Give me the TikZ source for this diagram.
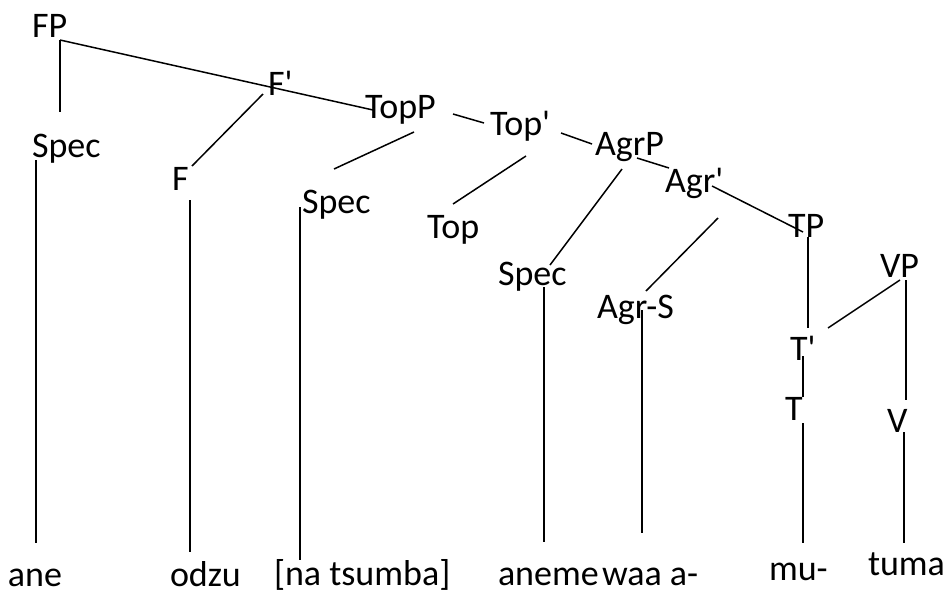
\documentclass[tikz,border=0pt]{standalone}
\usepackage{fontspec}
\setmainfont{Carlito}[Ligatures=TeXOff]
\begin{document}
\begin{tikzpicture}[x=1pt,y=-1pt,
  lbl/.style={anchor=base west, inner sep=0pt, outer sep=0pt, font=\fontsize{36}{40}\selectfont},
  branch/.style={line width=1.5pt, line cap=butt}]
\path[use as bounding box] (0,0) rectangle (946,595);
% labels
\node[lbl] (FP) at (32,37) {FP};
\node[lbl] (Fbar) at (268,95) {F'};
\node[lbl] (TopP) at (365,118) {TopP};
\node[lbl] (Spec1) at (32,157) {Spec};
\node[lbl] (F) at (172,190) {F};
\node[lbl] (Spec2) at (302,213) {Spec};
\node[lbl] (Top) at (427,238) {Top};
\node[lbl] (Topbar) at (490,135) {Top'};
\node[lbl] (AgrP) at (595,155) {AgrP};
\node[lbl] (Agrbar) at (665,192) {Agr'};
\node[lbl] (TP) at (788,237) {TP};
\node[lbl] (VP) at (880,277) {VP};
\node[lbl] (Spec3) at (498,285) {Spec};
\node[lbl] (AgrS) at (597,318) {Agr-S};
\node[lbl] (Tbar) at (790,360) {T'};
\node[lbl] (T) at (785,420) {T};
\node[lbl] (V) at (887,432) {V};
\node[lbl] (w1) at (8,586) {ane};
\node[lbl] (w2) at (170,586) {odzu};
\node[lbl] (w3) at (274,585) {[na tsumba]};
\node[lbl] (w4) at (498,585) {aneme};
\node[lbl] (w5) at (602,585) {waa a-};
\node[lbl] (w6) at (769,580) {mu-};
\node[lbl] (w7) at (868,575) {tuma};
% line end points
\coordinate (fp1) at (60,40);
\coordinate (sp1t) at (60,112);
\coordinate (topPa) at (373,110);
\coordinate (fb1) at (263,94);
\coordinate (f1) at (192,166);
\coordinate (sp1b) at (36,160);
\coordinate (w1t) at (36,543);
\coordinate (f2) at (190,200);
\coordinate (w2t) at (190,552);
\coordinate (tp1) at (414,132);
\coordinate (sp2t) at (334,169);
\coordinate (sp2b) at (300,207);
\coordinate (w3t) at (300,560);
\coordinate (tp2) at (453,114);
\coordinate (tb1) at (484,123);
\coordinate (tb2) at (526,156);
\coordinate (top1) at (453,204);
\coordinate (tb3) at (561,133);
\coordinate (ag1) at (592,144);
\coordinate (ag2) at (622,169);
\coordinate (sp3t) at (550,265);
\coordinate (ag3) at (637,158);
\coordinate (ab1) at (669,168);
\coordinate (ab2) at (712,186);
\coordinate (tpp1) at (803,232);
\coordinate (ab3) at (718,218);
\coordinate (as1) at (646,291);
\coordinate (tpp2) at (808,237);
\coordinate (tbt) at (808,328);
\coordinate (vp1) at (900,280);
\coordinate (tbr) at (828,328);
\coordinate (vp2) at (906,280);
\coordinate (vt) at (906,400);
\coordinate (sp3b) at (544,287);
\coordinate (w4t) at (544,542);
\coordinate (as2) at (642,310);
\coordinate (w5t) at (642,533);
\coordinate (tbb) at (803,356);
\coordinate (tt) at (803,397);
\coordinate (tb) at (803,423);
\coordinate (w6t) at (803,543);
\coordinate (vb) at (904,432);
\coordinate (w7t) at (904,543);
% branches
\draw[branch] (fp1) -- (sp1t);
\draw[branch] (fp1) -- (topPa);
\draw[branch] (fb1) -- (f1);
\draw[branch] (sp1b) -- (w1t);
\draw[branch] (f2) -- (w2t);
\draw[branch] (tp1) -- (sp2t);
\draw[branch] (sp2b) -- (w3t);
\draw[branch] (tp2) -- (tb1);
\draw[branch] (tb2) -- (top1);
\draw[branch] (tb3) -- (ag1);
\draw[branch] (ag2) -- (sp3t);
\draw[branch] (ag3) -- (ab1);
\draw[branch] (ab2) -- (tpp1);
\draw[branch] (ab3) -- (as1);
\draw[branch] (tpp2) -- (tbt);
\draw[branch] (vp1) -- (tbr);
\draw[branch] (vp2) -- (vt);
\draw[branch] (sp3b) -- (w4t);
\draw[branch] (as2) -- (w5t);
\draw[branch] (tbb) -- (tt);
\draw[branch] (tb) -- (w6t);
\draw[branch] (vb) -- (w7t);
\end{tikzpicture}
\end{document}
